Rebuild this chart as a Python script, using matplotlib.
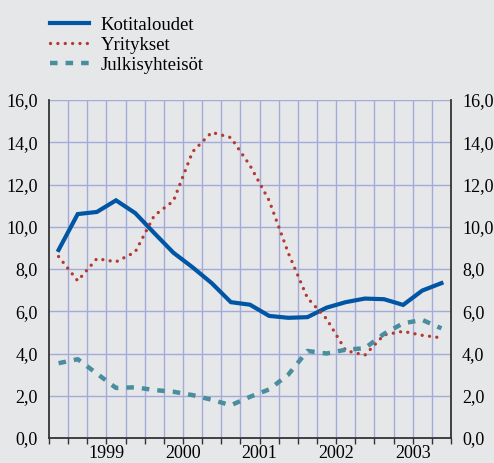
import numpy as np
import matplotlib.pyplot as plt

# quarterly data 1998Q4 - 2003Q4
quarters = np.arange(21)
kotitaloudet = [8.9, 10.6, 10.7, 11.25, 10.65, 9.7, 8.77, 8.08, 7.33, 6.43, 6.31,
                5.78, 5.69, 5.72, 6.17, 6.43, 6.6, 6.57, 6.3, 6.98, 7.33]
yritykset = [8.59, 7.44, 8.49, 8.34, 8.8, 10.53, 11.22, 13.55, 14.47, 14.22, 12.9,
             11.24, 8.76, 6.63, 5.64, 4.14, 3.92, 4.88, 5.05, 4.86, 4.74]
julkisyhteisot = [3.54, 3.73, 3.05, 2.37, 2.4, 2.27, 2.19, 2.03, 1.81, 1.55, 1.95,
                  2.3, 3.0, 4.12, 4.0, 4.18, 4.25, 4.93, 5.43, 5.59, 5.19]
years = ['1999', '2000', '2001', '2002', '2003']

bg = '#e6e7e9'
grid_col = '#a3acd8'
plt.rcParams['font.family'] = ['Liberation Serif', 'DejaVu Serif']

fig = plt.figure(figsize=(4.94, 4.63), dpi=100, facecolor=bg)
ax = fig.add_axes([49/494, 1-438/463, 402/494, 338/463], facecolor=bg)

ax.plot(quarters, kotitaloudet, color='#0055a4', lw=3, solid_joinstyle='miter',
        label='Kotitaloudet')
ax.plot(quarters, yritykset, color='#b33a33', lw=2.4, linestyle=(0, (0.01, 2.2)),
        dash_capstyle='round', label='Yritykset')
ax.plot(quarters, julkisyhteisot, color='#4a8d9e', lw=3.2, linestyle=(0, (1.7, 1.8)),
        dash_capstyle='butt', label='Julkisyhteisöt')

ax.set_xlim(-0.5, 20.5)
ax.set_ylim(0, 16)

# grid
yt = np.arange(0, 16.1, 2)
ax.set_yticks(yt)
ax.set_yticklabels([f'{v:.1f}'.replace('.', ',') for v in yt], fontsize=13)
for b in np.arange(0.5, 20.5, 1):
    ax.axvline(b, color=grid_col, lw=1, zorder=0)
for v in yt[1:]:
    ax.axhline(v, color=grid_col, lw=1, zorder=0)

ax.xaxis.remove_overlapping_locs = False
ax.set_xticks(np.arange(-0.5, 20.6, 1))
ax.set_xticklabels([])
ax.set_xticks([2.5 + 4*i for i in range(5)], minor=True)
ax.set_xticklabels(years, minor=True, fontsize=13)
ax.tick_params(axis='x', which='major', direction='out', length=4, width=1, color='#333333')
ax.tick_params(axis='x', which='minor', length=0, pad=5)
ax.tick_params(axis='y', which='both', length=0, pad=8, labelright=True, labelsize=13)

ax.spines['top'].set_visible(False)
for s in ['left', 'right', 'bottom']:
    ax.spines[s].set_color('#333333')
    ax.spines[s].set_linewidth(1.3)

fig.legend(loc='upper left', bbox_to_anchor=(33/494, 1), frameon=False,
           fontsize=13.5, handlelength=2.1, handletextpad=0.6, labelspacing=0.15)

fig.savefig('out.png', dpi=100, facecolor=bg)
